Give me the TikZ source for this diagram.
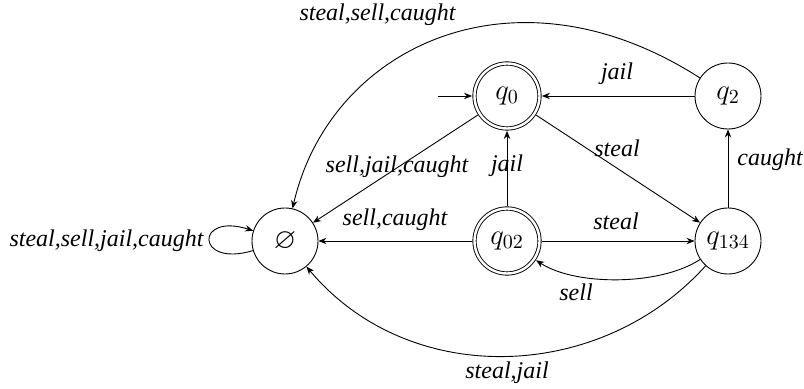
\documentclass[tikz,border=0pt]{standalone}
\usepackage{fontspec}
\setmainfont{Liberation Serif}
\usepackage{amssymb}
\usetikzlibrary{arrows.meta}
\begin{document}
\begin{tikzpicture}[x=0.5pt,y=-0.5pt,
  every path/.style={line width=0.45pt},
  state/.style={circle,draw,minimum size=33pt,inner sep=0pt,font=\fontsize{14.4}{17}\selectfont},
  accept/.style={state,minimum size=32.5pt,double,double distance=1.2pt,outer sep=1.2pt},
  lab/.style={font=\fontsize{12}{14}\selectfont\itshape,anchor=base,inner sep=0pt},
  arr/.style={-{Stealth[length=4pt,width=3.2pt,inset=1.3pt]}}]
\useasboundingbox (0,0) rectangle (804,389);
\node[accept] (q0) at (507,96) {$q_0$};
\node[state] (q2) at (728,96) {$q_2$};
\node[accept] (q02) at (507,241) {$q_{02}$};
\node[state] (q134) at (728,241) {$q_{134}$};
\node[state] (e) at (285,241) {$\varnothing$};
\coordinate (init) at (438,96);

\draw[arr] (init) -- (q0);
\draw[arr] (e) .. controls (195,268) and (195,212) .. (e);
\draw[arr] (q2) .. controls (515,-41) and (330,46) .. (e);
\draw[arr] (q0) -- (e);
\draw[arr] (q02) -- (e);
\draw[arr] (q02) -- (q0);
\draw[arr] (q0) -- (q134);
\draw[arr] (q02) -- (q134);
\draw[arr] (q134) .. controls (660,286) and (575,286) .. (q02);
\draw[arr] (q134) .. controls (600,383) and (409,389) .. (e);
\draw[arr] (q134) -- (q2);
\draw[arr] (q2) -- (q0);

\node[lab] (l1) at (106.5,247) {steal,sell,jail,caught};
\node[lab] (l2) at (377.5,21) {steal,sell,caught};
\node[lab] (l3) at (397,173) {sell,jail,caught};
\node[lab] (l4) at (395,226) {sell,caught};
\node[lab] (l5) at (507,172) {jail};
\node[lab] (l6) at (617,80) {jail};
\node[lab] (l7) at (617,157) {steal};
\node[lab] (l8) at (616,230) {steal};
\node[lab] (l9) at (770,166) {caught};
\node[lab] (l10) at (576,301) {sell};
\node[lab] (l11) at (507,379) {steal,jail};
\end{tikzpicture}
\end{document}
